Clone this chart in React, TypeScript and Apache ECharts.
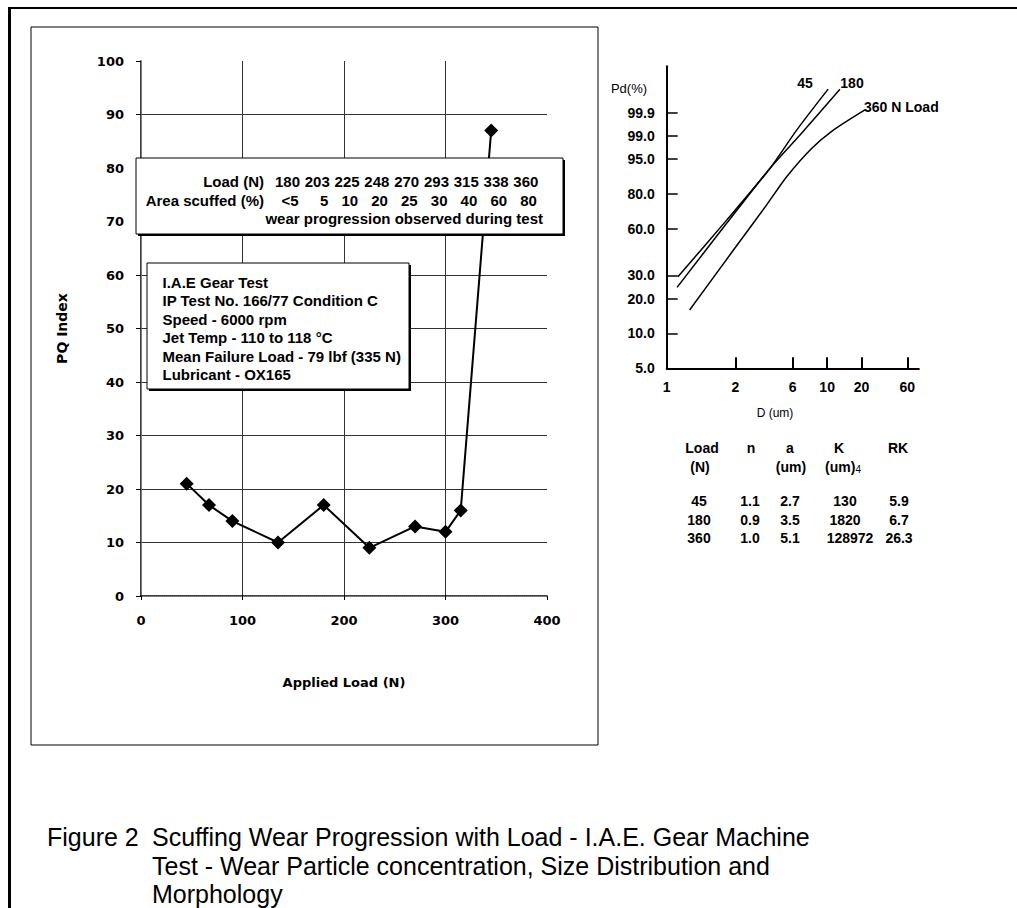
import React, { useEffect, useRef } from 'react';
import * as echarts from 'echarts';

// ---- Left chart: PQ index vs applied load ----
const loadN = [45, 67, 90, 135, 180, 225, 270, 300, 315, 345];
const pqIndex = [21, 17, 14, 10, 17, 9, 13, 12, 16, 87];

// annotation box: wear progression observed during test
const boxLoads = ['180', '203', '225', '248', '270', '293', '315', '338', '360'];
const boxScuffed = ['<5', '5', '10', '20', '25', '30', '40', '60', '80'];

const infoLines = [
  'I.A.E Gear Test',
  'IP Test No. 166/77 Condition C',
  'Speed - 6000 rpm',
  'Jet Temp - 110 to 118 °C',
  'Mean Failure Load - 79 lbf (335 N)',
  'Lubricant - OX165',
];

// ---- Right chart: size distribution on probability paper ----
const dTicks = [1, 2, 6, 10, 20, 60];
const dTickLabels = ['1', '2', '6', '10', '20', '60'];
const dTickPos = [0, 6, 11, 14, 17, 21]; // printed paper divisions
const pdTicks = [5, 10, 20, 30, 60, 80, 95, 99, 99.9];
const pdTickLabels = ['5.0', '10.0', '20.0', '30.0', '60.0', '80.0', '95.0', '99.0', '99.9'];
const pdTickPos = [0, 3, 6, 8, 12, 15, 18, 20, 22]; // printed paper divisions

const d45 = [1.12, 1.83, 3.87, 6.36, 10.2];
const pd45 = [29.3, 65.2, 92.1, 99.39, 99.997];
const d180 = [1.11, 1.83, 3.87, 6.68, 12.95];
const pd180 = [24.4, 63.3, 92.1, 99.07, 99.997];
const d360 = [1.26, 1.96, 3.64, 5.34, 7.94, 11.33, 21.7];
const pd360 = [16.0, 44.9, 74.1, 88.8, 97.4, 99.39, 99.93];

// ---- Table ----
const tblLoad = ['45', '180', '360'];
const tblN = ['1.1', '0.9', '1.0'];
const tblA = ['2.7', '3.5', '5.1'];
const tblK = ['130', '1820', '128972'];
const tblRK = ['5.9', '6.7', '26.3'];

const captionLines = [
  'Scuffing Wear Progression with Load - I.A.E. Gear Machine',
  'Test - Wear Particle concentration, Size Distribution and',
  'Morphology',
];

// piecewise scale helpers for the probability paper
function interp(v: number, xs: number[], ys: number[]) {
  let i = 0;
  while (i < xs.length - 2 && v > xs[i + 1]) i++;
  const t = (v - xs[i]) / (xs[i + 1] - xs[i]);
  return ys[i] + t * (ys[i + 1] - ys[i]);
}
const wb = (p: number) => Math.log(-Math.log(1 - p / 100));
const xPos = (d: number) => interp(Math.log10(d), dTicks.map((v) => Math.log10(v)), dTickPos);
const yPos = (p: number) => interp(wb(p), pdTicks.map(wb), pdTickPos);
const curve = (ds: number[], ps: number[]) => ds.map((d, i) => [xPos(d), yPos(ps[i])]);

const AR = 'Liberation Sans, Arial, Helvetica, sans-serif';
const DJ = 'DejaVu Sans, Verdana, sans-serif';

function txt(text: string, x: number, y: number, o: any = {}) {
  return {
    type: 'text',
    x,
    y,
    z: 20,
    style: {
      text,
      fill: '#000',
      fontFamily: o.family || AR,
      fontSize: o.size || 14,
      fontWeight: o.weight || 'bold',
      textAlign: o.align || 'left',
      textVerticalAlign: 'middle',
      ...(o.rich ? { rich: o.rich } : {}),
    },
  };
}

function shadowBox(x: number, y: number, w: number, h: number) {
  return [
    { type: 'rect', z: 18, shape: { x: x + 2, y: y + 2, width: w, height: h }, style: { fill: '#000' } },
    { type: 'rect', z: 19, shape: { x, y, width: w, height: h }, style: { fill: '#fff', stroke: '#000', lineWidth: 1 } },
  ];
}

export default function App() {
  const ref = useRef<HTMLDivElement>(null);
  useEffect(() => {
    const chart = echarts.init(ref.current!, null, { renderer: 'svg' });

    const graphics: any[] = [];
    // outer frame
    graphics.push({ type: 'line', z: 20, shape: { x1: 9.5, y1: 8, x2: 9.5, y2: 908 }, style: { stroke: '#000', lineWidth: 3 } });
    graphics.push({ type: 'line', z: 20, shape: { x1: 8, y1: 8, x2: 1017, y2: 8 }, style: { stroke: '#000', lineWidth: 2 } });
    // left chart frame
    graphics.push({ type: 'rect', z: 20, shape: { x: 31, y: 27, width: 567, height: 718 }, style: { fill: 'none', stroke: '#000', lineWidth: 1 } });

    // annotation box
    graphics.push(...shadowBox(136, 158, 427, 76));
    graphics.push(txt('Load (N)', 264, 181, { size: 15, align: 'right' }));
    graphics.push(txt('Area scuffed (%)', 264, 200, { size: 15, align: 'right' }));
    boxLoads.forEach((s, i) => graphics.push(txt(s, 300 + i * 29.8, 181, { size: 15, align: 'right' })));
    boxScuffed.forEach((s, i) => graphics.push(txt(s, 298.5 + i * 29.8, 200, { size: 15, align: 'right' })));
    graphics.push(txt('wear progression observed during test', 543, 218.5, { size: 15, align: 'right' }));

    // info box
    graphics.push(...shadowBox(147, 263, 262, 126));
    infoLines.forEach((s, i) => graphics.push(txt(s, 162.5, 282.5 + i * 18.4, { size: 15 })));

    // right chart labels
    graphics.push(txt('Pd(%)', 629, 88, { size: 13, weight: 'normal', align: 'center' }));
    graphics.push(txt('D (um)', 775, 413, { size: 12, weight: 'normal', align: 'center' }));
    graphics.push(txt('45', 805, 83, { size: 14, align: 'center' }));
    graphics.push(txt('180', 852, 83, { size: 14, align: 'center' }));
    graphics.push(txt('360 N Load', 864, 107, { size: 14 }));

    // table
    graphics.push(txt('Load', 702, 448, { align: 'center' }));
    graphics.push(txt('(N)', 700, 467, { align: 'center' }));
    graphics.push(txt('n', 751, 448, { align: 'center' }));
    graphics.push(txt('a', 790, 448, { align: 'center' }));
    graphics.push(txt('(um)', 791, 467, { align: 'center' }));
    graphics.push(txt('K', 839, 448, { align: 'center' }));
    graphics.push(
      txt('{a|(um)}{b|4}', 843, 467, {
        align: 'center',
        rich: {
          a: { fontFamily: AR, fontSize: 14, fontWeight: 'bold', fill: '#000' },
          b: { fontFamily: AR, fontSize: 10, fontWeight: 'normal', fill: '#000', padding: [4, 0, 0, 0] },
        },
      })
    );
    graphics.push(txt('RK', 898, 448, { align: 'center' }));
    tblLoad.forEach((s, i) => {
      const y = 501 + i * 18.7;
      graphics.push(txt(s, 699, y, { align: 'center' }));
      graphics.push(txt(tblN[i], 750, y, { align: 'center' }));
      graphics.push(txt(tblA[i], 790, y, { align: 'center' }));
      graphics.push(txt(tblK[i], i === 2 ? 850 : 845, y, { align: 'center' }));
      graphics.push(txt(tblRK[i], 899, y, { align: 'center' }));
    });

    // caption
    const capY = [837, 865.5, 894];
    graphics.push(txt('Figure 2', 47, capY[0], { size: 25, weight: 'normal' }));
    captionLines.forEach((s, i) => graphics.push(txt(s, 152, capY[i], { size: 25, weight: 'normal' })));

    const fmt = (labels: string[], pos: number[]) => (v: number) => {
      const k = pos.indexOf(v);
      return k >= 0 ? labels[k] : '';
    };

    const option: any = {
      animation: false,
      backgroundColor: '#fff',
      grid: [
        { left: 141, top: 61, width: 406, height: 535 },
        { left: 666.7, top: 66.2, width: 252.1, height: 302.1 },
      ],
      xAxis: [
        {
          gridIndex: 0,
          type: 'value',
          min: 0,
          max: 400,
          interval: 100,
          name: 'Applied Load (N)',
          nameLocation: 'middle',
          nameGap: 80,
          nameTextStyle: { fontFamily: DJ, fontWeight: 'bold', fontSize: 13, color: '#000' },
          axisLine: { lineStyle: { color: '#000', width: 1.5 } },
          axisTick: { show: true, length: 4, lineStyle: { color: '#000' } },
          axisLabel: { margin: 18, fontFamily: DJ, fontWeight: 'bold', fontSize: 13, color: '#000' },
          splitLine: { show: true, showMinLine: false, showMaxLine: false, lineStyle: { color: '#333', width: 1 } },
        },
        {
          gridIndex: 0,
          type: 'value',
          position: 'top',
          min: 0,
          max: 400,
          axisLine: { show: true, lineStyle: { color: '#888', type: 'dotted', width: 1 } },
          axisTick: { show: false },
          axisLabel: { show: false },
          splitLine: { show: false },
        },
        {
          gridIndex: 1,
          type: 'value',
          min: 0,
          max: 22,
          axisLine: { lineStyle: { color: '#000', width: 2 } },
          axisTick: { show: true, inside: true, length: 11, customValues: dTickPos.slice(1), lineStyle: { color: '#000', width: 2 } },
          axisLabel: { customValues: dTickPos, formatter: fmt(dTickLabels, dTickPos), margin: 12, fontFamily: AR, fontWeight: 'bold', fontSize: 14, color: '#000' },
          splitLine: { show: false },
        },
      ],
      yAxis: [
        {
          gridIndex: 0,
          type: 'value',
          min: 0,
          max: 100,
          interval: 10,
          name: 'PQ Index',
          nameLocation: 'middle',
          nameGap: 72,
          nameTextStyle: { fontFamily: DJ, fontWeight: 'bold', fontSize: 14, color: '#000' },
          axisLine: { show: true, lineStyle: { color: '#000', width: 1.5 } },
          axisTick: { show: true, length: 5, lineStyle: { color: '#000' } },
          axisLabel: { margin: 17, fontFamily: DJ, fontWeight: 'bold', fontSize: 13, color: '#000' },
          splitLine: { show: true, showMinLine: false, showMaxLine: false, lineStyle: { color: '#333', width: 1 } },
        },
        {
          gridIndex: 0,
          type: 'value',
          position: 'right',
          min: 0,
          max: 100,
          axisLine: { show: true, lineStyle: { color: '#888', type: 'dotted', width: 1 } },
          axisTick: { show: false },
          axisLabel: { show: false },
          splitLine: { show: false },
        },
        {
          gridIndex: 1,
          type: 'value',
          min: 0,
          max: 26,
          axisLine: { show: true, lineStyle: { color: '#000', width: 2 } },
          axisTick: { show: true, inside: true, length: 11, customValues: pdTickPos.slice(1), lineStyle: { color: '#000', width: 1.5 } },
          axisLabel: { customValues: pdTickPos, formatter: fmt(pdTickLabels, pdTickPos), margin: 12, fontFamily: AR, fontWeight: 'bold', fontSize: 14, color: '#000' },
          splitLine: { show: false },
        },
      ],
      series: [
        {
          type: 'line',
          xAxisIndex: 0,
          yAxisIndex: 0,
          data: loadN.map((x, i) => [x, pqIndex[i]]),
          symbol: 'diamond',
          symbolSize: 14,
          itemStyle: { color: '#000' },
          lineStyle: { color: '#000', width: 2 },
          z: 5,
        },
        ...[
          [d45, pd45],
          [d180, pd180],
          [d360, pd360],
        ].map(([ds, ps]) => ({
          type: 'line',
          xAxisIndex: 2,
          yAxisIndex: 2,
          data: curve(ds, ps),
          showSymbol: false,
          symbol: 'none',
          smooth: 0.25,
          lineStyle: { color: '#000', width: 1.5 },
        })),
      ],
      graphic: { elements: graphics },
    };

    chart.setOption(option);
    return () => chart.dispose();
  }, []);
  return (
    <div
      ref={ref}
      style={{ position: 'absolute', left: 0, top: 0, width: 1017, height: 908, background: '#fff' }}
    />
  );
}
